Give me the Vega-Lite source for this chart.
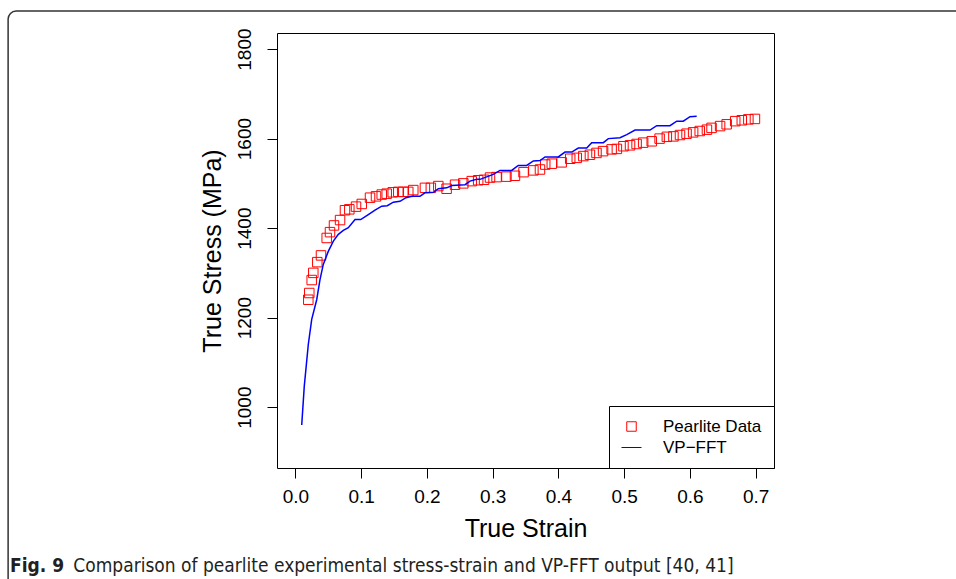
{
  "$schema": "https://vega.github.io/schema/vega-lite/v6.json",
  "width": 497,
  "height": 435,
  "autosize": {"type": "none"},
  "padding": {"left": 277, "top": 33, "right": 182, "bottom": 111},
  "background": "white",
  "title": {
    "text": "Fig. 9",
    "subtitle": "\u200b\u2003\u2003\u2003\u2002\u2009Comparison of pearlite experimental stress-strain and VP-FFT output [40, 41]",
    "orient": "bottom",
    "anchor": "start",
    "frame": "group",
    "dx": -267,
    "offset": -34,
    "font": "Liberation Sans Narrow, DejaVu Sans Condensed, Open Sans",
    "fontSize": 19,
    "fontWeight": "bold",
    "color": "#231f20",
    "subtitleFont": "Liberation Sans Narrow, DejaVu Sans Condensed, Open Sans",
    "subtitleFontSize": 19,
    "subtitleFontWeight": "normal",
    "subtitleColor": "#231f20",
    "subtitlePadding": -19
  },
  "config": {
    "view": {"stroke": "#000", "strokeWidth": 1},
    "axis": {
      "domain": false,
      "grid": false,
      "ticks": true,
      "tickColor": "#000",
      "tickSize": 10,
      "tickWidth": 1,
      "labelFont": "Liberation Sans",
      "labelFontSize": 19,
      "labelColor": "#000",
      "titleFont": "Liberation Sans",
      "titleFontSize": 25,
      "titleFontWeight": "normal",
      "titleColor": "#000"
    },
    "axisX": {"labelPadding": 9, "titlePadding": 10},
    "axisY": {"labelAngle": 270, "labelAlign": "center", "labelBaseline": "bottom", "labelPadding": 13, "titlePadding": 10},
    "legend": {
      "orient": "bottom-right",
      "offset": 0,
      "padding": 12,
      "strokeColor": "#000",
      "fillColor": "#fff",
      "labelFont": "Liberation Sans",
      "labelFontSize": 17,
      "labelColor": "#000",
      "labelOffset": 21,
      "rowPadding": 2,
      "symbolStrokeWidth": 1,
      "cornerRadius": 0
    }
  },
  "datasets": {
    "pearlite": [
      {"strain": 0.0196, "stress": 1240, "series": "Pearlite Data"},
      {"strain": 0.0211, "stress": 1255, "series": "Pearlite Data"},
      {"strain": 0.0248, "stress": 1284, "series": "Pearlite Data"},
      {"strain": 0.0272, "stress": 1300, "series": "Pearlite Data"},
      {"strain": 0.0333, "stress": 1324, "series": "Pearlite Data"},
      {"strain": 0.0389, "stress": 1339, "series": "Pearlite Data"},
      {"strain": 0.0476, "stress": 1378, "series": "Pearlite Data"},
      {"strain": 0.0526, "stress": 1391, "series": "Pearlite Data"},
      {"strain": 0.0587, "stress": 1406, "series": "Pearlite Data"},
      {"strain": 0.0679, "stress": 1418, "series": "Pearlite Data"},
      {"strain": 0.0754, "stress": 1440, "series": "Pearlite Data"},
      {"strain": 0.082, "stress": 1442, "series": "Pearlite Data"},
      {"strain": 0.0922, "stress": 1448, "series": "Pearlite Data"},
      {"strain": 0.1009, "stress": 1454, "series": "Pearlite Data"},
      {"strain": 0.1135, "stress": 1468, "series": "Pearlite Data"},
      {"strain": 0.1226, "stress": 1471, "series": "Pearlite Data"},
      {"strain": 0.1313, "stress": 1475, "series": "Pearlite Data"},
      {"strain": 0.1389, "stress": 1477, "series": "Pearlite Data"},
      {"strain": 0.148, "stress": 1480, "series": "Pearlite Data"},
      {"strain": 0.1565, "stress": 1481, "series": "Pearlite Data"},
      {"strain": 0.1641, "stress": 1481, "series": "Pearlite Data"},
      {"strain": 0.1717, "stress": 1481, "series": "Pearlite Data"},
      {"strain": 0.1793, "stress": 1485, "series": "Pearlite Data"},
      {"strain": 0.197, "stress": 1490, "series": "Pearlite Data"},
      {"strain": 0.206, "stress": 1490, "series": "Pearlite Data"},
      {"strain": 0.2174, "stress": 1494, "series": "Pearlite Data"},
      {"strain": 0.23, "stress": 1488, "series": "Pearlite Data"},
      {"strain": 0.2428, "stress": 1497, "series": "Pearlite Data"},
      {"strain": 0.2554, "stress": 1500, "series": "Pearlite Data"},
      {"strain": 0.2682, "stress": 1505, "series": "Pearlite Data"},
      {"strain": 0.278, "stress": 1507, "series": "Pearlite Data"},
      {"strain": 0.287, "stress": 1508, "series": "Pearlite Data"},
      {"strain": 0.296, "stress": 1513, "series": "Pearlite Data"},
      {"strain": 0.306, "stress": 1514, "series": "Pearlite Data"},
      {"strain": 0.321, "stress": 1515, "series": "Pearlite Data"},
      {"strain": 0.334, "stress": 1517, "series": "Pearlite Data"},
      {"strain": 0.347, "stress": 1525, "series": "Pearlite Data"},
      {"strain": 0.362, "stress": 1529, "series": "Pearlite Data"},
      {"strain": 0.372, "stress": 1531, "series": "Pearlite Data"},
      {"strain": 0.38, "stress": 1542, "series": "Pearlite Data"},
      {"strain": 0.39, "stress": 1544, "series": "Pearlite Data"},
      {"strain": 0.405, "stress": 1547, "series": "Pearlite Data"},
      {"strain": 0.418, "stress": 1555, "series": "Pearlite Data"},
      {"strain": 0.428, "stress": 1557, "series": "Pearlite Data"},
      {"strain": 0.438, "stress": 1561, "series": "Pearlite Data"},
      {"strain": 0.448, "stress": 1564, "series": "Pearlite Data"},
      {"strain": 0.458, "stress": 1568, "series": "Pearlite Data"},
      {"strain": 0.468, "stress": 1572, "series": "Pearlite Data"},
      {"strain": 0.481, "stress": 1576, "series": "Pearlite Data"},
      {"strain": 0.489, "stress": 1577, "series": "Pearlite Data"},
      {"strain": 0.499, "stress": 1583, "series": "Pearlite Data"},
      {"strain": 0.509, "stress": 1585, "series": "Pearlite Data"},
      {"strain": 0.519, "stress": 1588, "series": "Pearlite Data"},
      {"strain": 0.529, "stress": 1591, "series": "Pearlite Data"},
      {"strain": 0.542, "stress": 1594, "series": "Pearlite Data"},
      {"strain": 0.554, "stress": 1600, "series": "Pearlite Data"},
      {"strain": 0.565, "stress": 1604, "series": "Pearlite Data"},
      {"strain": 0.575, "stress": 1605, "series": "Pearlite Data"},
      {"strain": 0.585, "stress": 1608, "series": "Pearlite Data"},
      {"strain": 0.595, "stress": 1611, "series": "Pearlite Data"},
      {"strain": 0.605, "stress": 1614, "series": "Pearlite Data"},
      {"strain": 0.615, "stress": 1617, "series": "Pearlite Data"},
      {"strain": 0.626, "stress": 1620, "series": "Pearlite Data"},
      {"strain": 0.633, "stress": 1624, "series": "Pearlite Data"},
      {"strain": 0.646, "stress": 1628, "series": "Pearlite Data"},
      {"strain": 0.656, "stress": 1632, "series": "Pearlite Data"},
      {"strain": 0.669, "stress": 1639, "series": "Pearlite Data"},
      {"strain": 0.679, "stress": 1641, "series": "Pearlite Data"},
      {"strain": 0.689, "stress": 1643, "series": "Pearlite Data"},
      {"strain": 0.699, "stress": 1644, "series": "Pearlite Data"}
    ],
    "vpfft": [
      {"strain": 0.0096, "stress": 960, "series": "VP\u2212FFT"},
      {"strain": 0.0135, "stress": 1047, "series": "VP\u2212FFT"},
      {"strain": 0.0196, "stress": 1140, "series": "VP\u2212FFT"},
      {"strain": 0.0248, "stress": 1196, "series": "VP\u2212FFT"},
      {"strain": 0.0324, "stress": 1240, "series": "VP\u2212FFT"},
      {"strain": 0.0374, "stress": 1285, "series": "VP\u2212FFT"},
      {"strain": 0.0424, "stress": 1319, "series": "VP\u2212FFT"},
      {"strain": 0.05, "stress": 1348, "series": "VP\u2212FFT"},
      {"strain": 0.0577, "stress": 1371, "series": "VP\u2212FFT"},
      {"strain": 0.0653, "stress": 1386, "series": "VP\u2212FFT"},
      {"strain": 0.0729, "stress": 1395, "series": "VP\u2212FFT"},
      {"strain": 0.0805, "stress": 1401, "series": "VP\u2212FFT"},
      {"strain": 0.0907, "stress": 1419, "series": "VP\u2212FFT"},
      {"strain": 0.0993, "stress": 1419, "series": "VP\u2212FFT"},
      {"strain": 0.1109, "stress": 1430, "series": "VP\u2212FFT"},
      {"strain": 0.1211, "stress": 1440, "series": "VP\u2212FFT"},
      {"strain": 0.1313, "stress": 1449, "series": "VP\u2212FFT"},
      {"strain": 0.1398, "stress": 1450, "series": "VP\u2212FFT"},
      {"strain": 0.1489, "stress": 1458, "series": "VP\u2212FFT"},
      {"strain": 0.1591, "stress": 1460, "series": "VP\u2212FFT"},
      {"strain": 0.1682, "stress": 1468, "series": "VP\u2212FFT"},
      {"strain": 0.1769, "stress": 1471, "series": "VP\u2212FFT"},
      {"strain": 0.1895, "stress": 1471, "series": "VP\u2212FFT"},
      {"strain": 0.197, "stress": 1479, "series": "VP\u2212FFT"},
      {"strain": 0.2098, "stress": 1480, "series": "VP\u2212FFT"},
      {"strain": 0.2174, "stress": 1488, "series": "VP\u2212FFT"},
      {"strain": 0.2302, "stress": 1490, "series": "VP\u2212FFT"},
      {"strain": 0.2378, "stress": 1495, "series": "VP\u2212FFT"},
      {"strain": 0.258, "stress": 1497, "series": "VP\u2212FFT"},
      {"strain": 0.2656, "stress": 1505, "series": "VP\u2212FFT"},
      {"strain": 0.2758, "stress": 1509, "series": "VP\u2212FFT"},
      {"strain": 0.2808, "stress": 1509, "series": "VP\u2212FFT"},
      {"strain": 0.301, "stress": 1520, "series": "VP\u2212FFT"},
      {"strain": 0.3112, "stress": 1529, "series": "VP\u2212FFT"},
      {"strain": 0.329, "stress": 1529, "series": "VP\u2212FFT"},
      {"strain": 0.339, "stress": 1540, "series": "VP\u2212FFT"},
      {"strain": 0.3518, "stress": 1540, "series": "VP\u2212FFT"},
      {"strain": 0.3619, "stress": 1550, "series": "VP\u2212FFT"},
      {"strain": 0.3721, "stress": 1551, "series": "VP\u2212FFT"},
      {"strain": 0.3797, "stress": 1559, "series": "VP\u2212FFT"},
      {"strain": 0.3999, "stress": 1559, "series": "VP\u2212FFT"},
      {"strain": 0.4101, "stress": 1570, "series": "VP\u2212FFT"},
      {"strain": 0.4203, "stress": 1570, "series": "VP\u2212FFT"},
      {"strain": 0.4303, "stress": 1579, "series": "VP\u2212FFT"},
      {"strain": 0.4431, "stress": 1579, "series": "VP\u2212FFT"},
      {"strain": 0.4507, "stress": 1591, "series": "VP\u2212FFT"},
      {"strain": 0.4684, "stress": 1591, "series": "VP\u2212FFT"},
      {"strain": 0.476, "stress": 1600, "series": "VP\u2212FFT"},
      {"strain": 0.4938, "stress": 1602, "series": "VP\u2212FFT"},
      {"strain": 0.504, "stress": 1609, "series": "VP\u2212FFT"},
      {"strain": 0.5166, "stress": 1619, "series": "VP\u2212FFT"},
      {"strain": 0.5394, "stress": 1619, "series": "VP\u2212FFT"},
      {"strain": 0.5496, "stress": 1629, "series": "VP\u2212FFT"},
      {"strain": 0.5698, "stress": 1629, "series": "VP\u2212FFT"},
      {"strain": 0.58, "stress": 1639, "series": "VP\u2212FFT"},
      {"strain": 0.59, "stress": 1639, "series": "VP\u2212FFT"},
      {"strain": 0.6002, "stress": 1649, "series": "VP\u2212FFT"},
      {"strain": 0.6104, "stress": 1650, "series": "VP\u2212FFT"}
    ]
  },
  "layer": [
    {
      "data": {"values": [{}]},
      "mark": {"type": "rect", "filled": false, "stroke": "#333", "strokeWidth": 1.5, "cornerRadius": 8, "clip": false},
      "encoding": {
        "x": {"datum": -0.437, "type": "quantitative", "scale": {"domain": [-0.028, 0.728], "nice": false, "zero": false}},
        "x2": {"datum": 1.03},
        "y": {"datum": 1885, "type": "quantitative", "scale": {"domain": [864, 1836], "nice": false, "zero": false}},
        "y2": {"datum": 590}
      }
    },
    {
      "data": {"name": "pearlite"},
      "mark": {"type": "point", "shape": "square", "filled": false, "strokeWidth": 1, "opacity": 1},
      "encoding": {
        "x": {"field": "strain", "type": "quantitative", "scale": {"domain": [-0.028, 0.728], "nice": false, "zero": false}, "axis": {"title": "True Strain", "values": [0, 0.1, 0.2, 0.3, 0.4, 0.5, 0.6, 0.7], "format": ".1f"}},
        "y": {"field": "stress", "type": "quantitative", "scale": {"domain": [864, 1836], "nice": false, "zero": false}, "axis": {"title": "True Stress (MPa)", "values": [1000, 1200, 1400, 1600, 1800], "format": "d"}},
        "color": {"field": "series", "type": "nominal", "scale": {"domain": ["Pearlite Data", "VP\u2212FFT"], "range": ["#ff0000", "#0000ff"]}, "legend": {"title": null}},
        "shape": {"field": "series", "type": "nominal", "scale": {"domain": ["Pearlite Data", "VP\u2212FFT"], "range": ["square", "stroke"]}, "legend": {"title": null}},
        "size": {"field": "series", "type": "ordinal", "scale": {"domain": ["Pearlite Data", "VP\u2212FFT"], "range": [90, 400]}, "legend": {"title": null}}
      }
    },
    {
      "data": {"name": "vpfft"},
      "mark": {"type": "line", "strokeWidth": 1.5},
      "encoding": {
        "x": {"field": "strain", "type": "quantitative", "scale": {"domain": [-0.028, 0.728], "nice": false, "zero": false}, "axis": {"title": "True Strain", "values": [0, 0.1, 0.2, 0.3, 0.4, 0.5, 0.6, 0.7], "format": ".1f"}},
        "y": {"field": "stress", "type": "quantitative", "scale": {"domain": [864, 1836], "nice": false, "zero": false}, "axis": {"title": "True Stress (MPa)", "values": [1000, 1200, 1400, 1600, 1800], "format": "d"}},
        "color": {"field": "series", "type": "nominal", "scale": {"domain": ["Pearlite Data", "VP\u2212FFT"], "range": ["#ff0000", "#0000ff"]}, "legend": {"title": null}}
      }
    }
  ]
}
